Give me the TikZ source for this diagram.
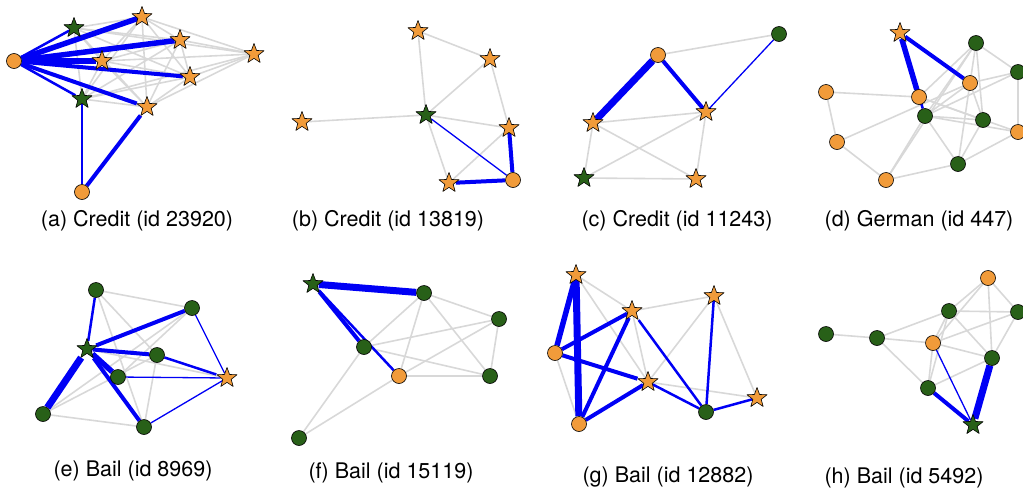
\documentclass[tikz,border=0pt]{standalone}
\usepackage{fontspec}
\setmainfont{TeX Gyre Heros}
\usetikzlibrary{shapes.geometric,backgrounds}
\definecolor{nodeorange}{RGB}{241,155,58}
\definecolor{nodegreen}{RGB}{40,96,24}
\definecolor{edgegray}{RGB}{216,216,216}
\definecolor{edgeblue}{RGB}{0,0,245}
\begin{document}
\begin{tikzpicture}[x=1pt, y=-1pt, line join=round, line cap=round,
	ocirc/.style={circle, draw=black, line width=0.6pt, fill=nodeorange, minimum size=15pt, inner sep=0pt},
	gcirc/.style={ocirc, fill=nodegreen},
	ostar/.style={star, star points=5, star point ratio=2.4, draw=black, line width=0.6pt, fill=nodeorange, minimum size=21pt, inner sep=0pt},
	gstar/.style={ostar, fill=nodegreen},
	gedge/.style={edgegray, line width=1.6pt},
	bA/.style={edgeblue, line width=1.3pt},
	bB/.style={edgeblue, line width=2.5pt},
	bC/.style={edgeblue, line width=4pt},
	bD/.style={edgeblue, line width=5.5pt},
	bE/.style={edgeblue, line width=7pt},
	caption/.style={font=\fontsize{21.5}{24}\selectfont, inner sep=0pt}]
	\useasboundingbox (0,0) rectangle (1023,493);
	% (a) Credit 23920
	\node[ocirc] (a0) at (14,61) {};
	\node[gstar] (a1) at (74,28) {};
	\node[ostar] (a2) at (142,17) {};
	\node[ostar] (a3) at (180,40) {};
	\node[ostar] (a4) at (254,54) {};
	\node[ostar] (a5) at (102,61) {};
	\node[ostar] (a6) at (190,77) {};
	\node[gstar] (a7) at (82,99) {};
	\node[ostar] (a8) at (147,107) {};
	\node[ocirc] (a9) at (82,192) {};
	% (b) Credit 13819
	\node[ostar] (b1) at (418,31) {};
	\node[ostar] (b2) at (490,59) {};
	\node[gstar] (b3) at (426,115) {};
	\node[ostar] (b4) at (302,122) {};
	\node[ostar] (b5) at (509,128) {};
	\node[ostar] (b6) at (449,183) {};
	\node[ocirc] (b7) at (513,180) {};
	% (c) Credit 11243
	\node[gcirc] (c1) at (779,34) {};
	\node[ocirc] (c2) at (658,55) {};
	\node[ostar] (c3) at (706,112) {};
	\node[ostar] (c4) at (593,123) {};
	\node[gstar] (c5) at (584,178) {};
	\node[ostar] (c6) at (696,179) {};
	% (d) German 447
	\node[ostar] (d1) at (900,33) {};
	\node[gcirc] (d2) at (976,43) {};
	\node[gcirc] (d3) at (1018,72) {};
	\node[ocirc] (d4) at (970,83) {};
	\node[ocirc] (d5) at (826,92) {};
	\node[ocirc] (d6) at (919,97) {};
	\node[gcirc] (d7) at (925,116) {};
	\node[gcirc] (d8) at (983,120) {};
	\node[ocirc] (d9) at (1018,132) {};
	\node[ocirc] (d10) at (837,142) {};
	\node[gcirc] (d11) at (958,164) {};
	\node[ocirc] (d12) at (886,180) {};
	% (e) Bail 8969
	\node[gcirc] (e1) at (96,290) {};
	\node[gcirc] (e2) at (192,308) {};
	\node[gstar] (e3) at (87,349) {};
	\node[gcirc] (e4) at (157,355) {};
	\node[gcirc] (e5) at (118,377) {};
	\node[ostar] (e6) at (227,378) {};
	\node[gcirc] (e7) at (43,414) {};
	\node[gcirc] (e8) at (144,427) {};
	% (f) Bail 15119
	\node[gstar] (f1) at (313,284) {};
	\node[gcirc] (f2) at (424,293) {};
	\node[gcirc] (f3) at (499,319) {};
	\node[gcirc] (f4) at (364,347) {};
	\node[ocirc] (f5) at (399,376) {};
	\node[gcirc] (f6) at (490,376) {};
	\node[gcirc] (f7) at (299,438) {};
	% (g) Bail 12882
	\node[ostar] (g1) at (576,275) {};
	\node[ostar] (g2) at (714,296) {};
	\node[ostar] (g3) at (632,311) {};
	\node[ocirc] (g4) at (555,353) {};
	\node[ostar] (g5) at (648,382) {};
	\node[ostar] (g6) at (757,398) {};
	\node[gcirc] (g7) at (706,412) {};
	\node[ocirc] (g8) at (579,424) {};
	% (h) Bail 5492
	\node[ocirc] (h1) at (988,278) {};
	\node[gcirc] (h2) at (949,311) {};
	\node[gcirc] (h3) at (1018,312) {};
	\node[gcirc] (h4) at (826,334) {};
	\node[gcirc] (h5) at (877,338) {};
	\node[ocirc] (h6) at (933,343) {};
	\node[gcirc] (h7) at (992,358) {};
	\node[gcirc] (h8) at (928,388) {};
	\node[gstar] (h9) at (973,425) {};
	% captions
	\node[caption] (capa) at (137,221) {(a) Credit (id 23920)};
	\node[caption] (capb) at (388,221) {(b) Credit (id 13819)};
	\node[caption] (capc) at (677,221) {(c) Credit (id 11243)};
	\node[caption] (capd) at (919,221) {(d) German (id 447)};
	\node[caption] (cape) at (133,471) {(e) Bail (id 8969)};
	\node[caption] (capf) at (391,473) {(f) Bail (id 15119)};
	\node[caption] (capg) at (668,477) {(g) Bail (id 12882)};
	\node[caption] (caph) at (904,478) {(h) Bail (id 5492)};
	\begin{pgfonlayer}{background}
		% gray edges
		\foreach \i in {1,...,8}
			\foreach \j in {1,...,8}
				{\ifnum\i<\j \draw[gedge] (a\i)--(a\j);\fi}
		\foreach \u/\v in {b1/b2,b1/b3,b2/b3,b2/b5,b3/b4,b3/b5,b3/b6,b6/b5,
			c2/c1,c4/c3,c4/c5,c4/c6,c3/c5,c3/c6,c5/c6,
			d5/d6,d5/d10,d10/d4,d10/d12,d12/d11,d12/d7,d12/d2,d2/d6,d2/d4,d2/d3,d2/d8,d2/d7,
			d3/d4,d3/d7,d3/d9,d4/d8,d4/d11,d4/d7,d7/d8,d7/d9,d7/d11,d8/d11,d11/d9,d6/d8,d6/d9,
			e1/e2,e1/e4,e1/e8,e2/e5,e2/e7,e7/e8,e7/e4,e4/e8,e3/e6,
			f2/f4,f2/f5,f2/f3,f2/f6,f4/f3,f4/f6,f4/f7,f5/f3,f5/f6,f5/f7,f3/f6,
			g1/g3,g1/g5,g3/g2,g3/g5,g4/g8,g5/g2,g5/g6,g2/g6,
			h4/h5,h5/h2,h5/h6,h5/h8,h2/h1,h2/h3,h2/h6,h2/h7,h2/h8,h1/h6,h1/h7,h1/h3,
			h3/h6,h3/h7,h6/h7,h6/h8,h8/h7}
			\draw[gedge] (\u)--(\v);
		% blue edges
		\foreach \u/\v/\w in {a0/a1/bB,a0/a2/bD,a0/a3/bD,a0/a5/bD,a0/a6/bC,a0/a7/bB,a0/a8/bC,a9/a7/bB,a9/a8/bC,
			b3/b7/bA,b5/b7/bC,b6/b7/bC,
			c2/c4/bE,c2/c3/bC,c1/c3/bA,
			d1/d6/bD,d1/d4/bC,d1/d7/bB,
			e3/e1/bB,e3/e2/bC,e3/e4/bC,e3/e5/bD,e3/e7/bE,e3/e8/bC,e6/e2/bA,e6/e4/bB,e6/e5/bA,e6/e8/bA,
			f1/f2/bE,f1/f4/bC,f1/f5/bB,
			g1/g4/bD,g1/g8/bE,g4/g3/bC,g4/g5/bC,g8/g3/bC,g8/g5/bC,g3/g7/bB,g5/g7/bB,g7/g2/bB,g7/g6/bB,
			h9/h8/bC,h9/h7/bE,h9/h6/bA}
			\draw[\w] (\u)--(\v);
	\end{pgfonlayer}
\end{tikzpicture}
\end{document}
